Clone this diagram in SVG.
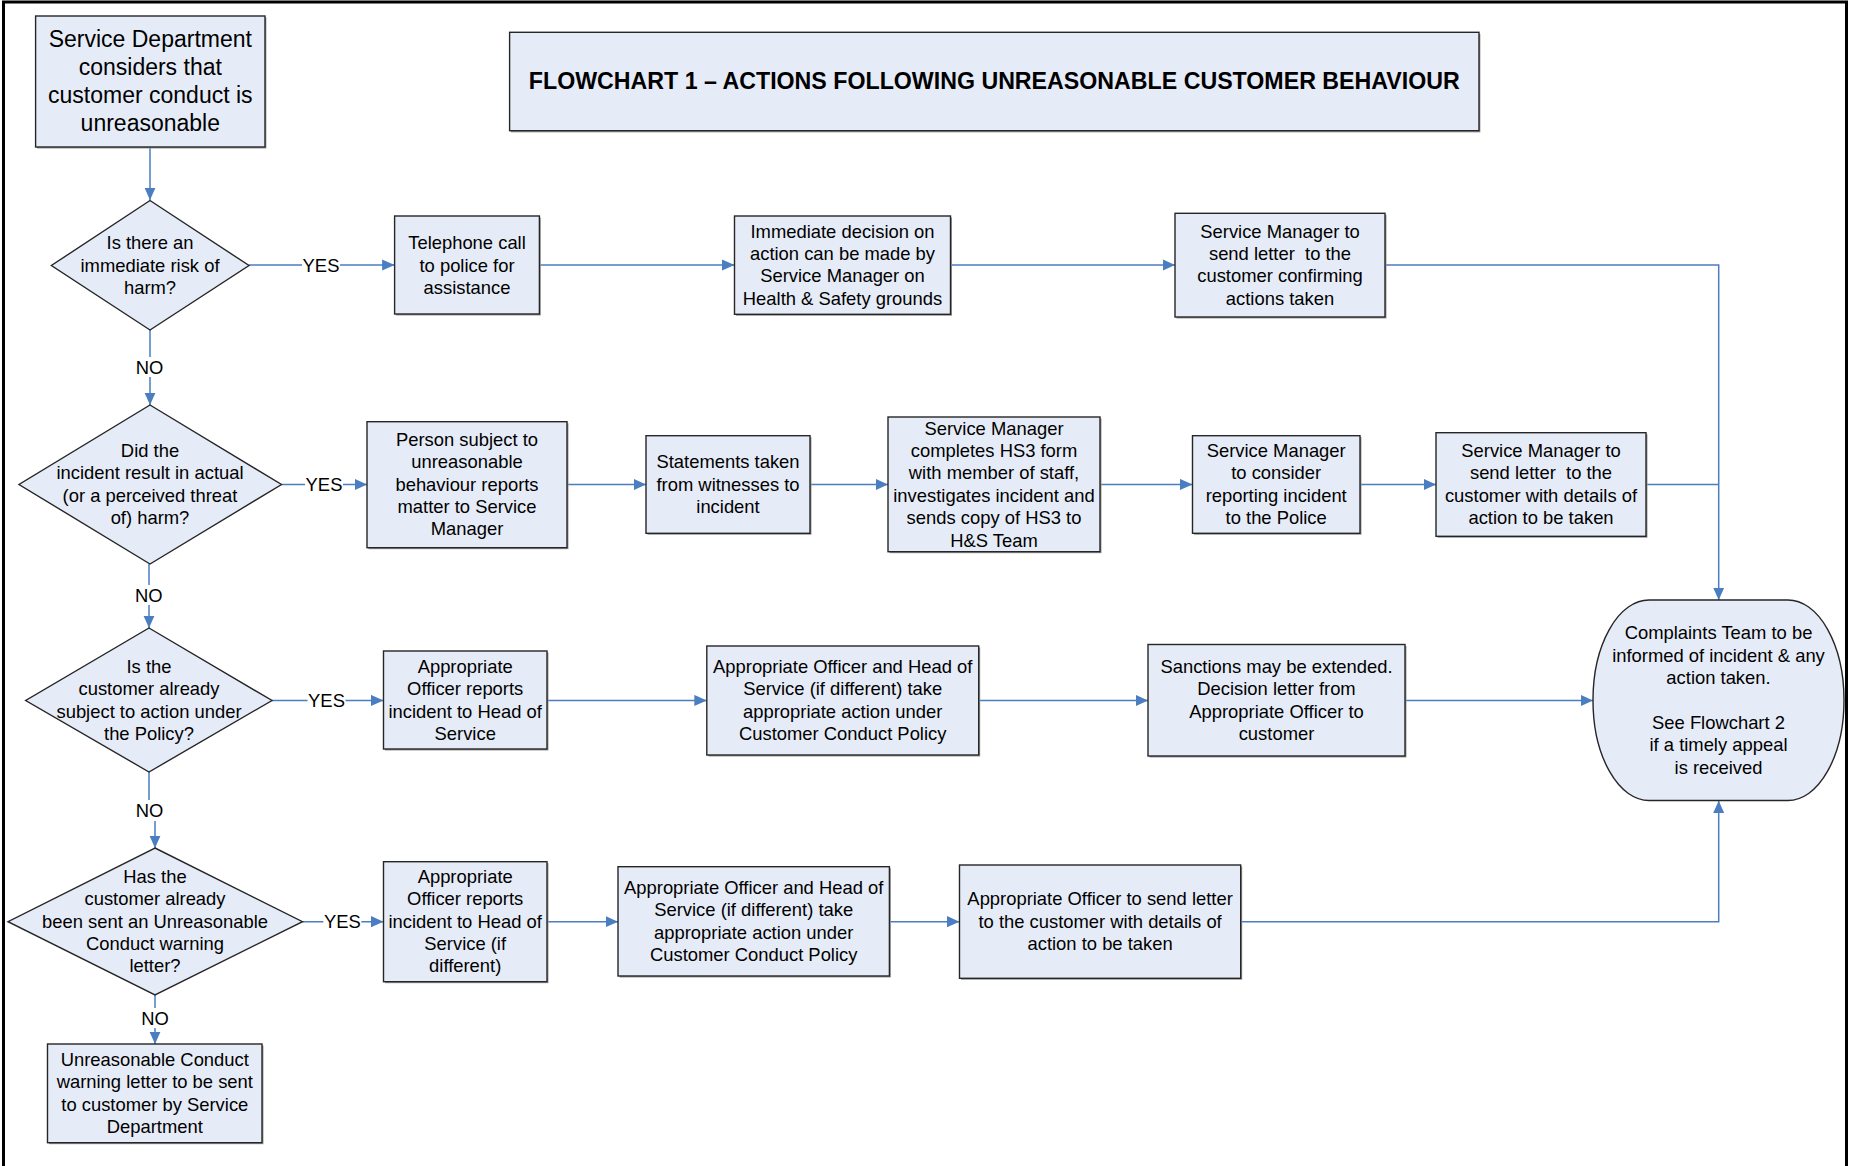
<svg xmlns="http://www.w3.org/2000/svg" width="1849" height="1166" viewBox="0 0 1849 1166">
<defs>
<marker id="arr" markerUnits="userSpaceOnUse" markerWidth="14" markerHeight="12" refX="12.5" refY="6" orient="auto">
<path d="M0,0.4 L12.5,6 L0,11.6 z" fill="#4A7EC0"/>
</marker>
<style>
.box{fill:#E6ECF7;stroke:#262626;stroke-width:1.4}
.sh{fill:#9a9a9a}
.t{font-family:"Liberation Sans",Arial,sans-serif;font-size:18.4px;fill:#000;text-anchor:middle}
.big{font-size:23px}
.title{font-family:"Liberation Sans",Arial,sans-serif;font-size:23.2px;font-weight:bold;text-anchor:middle;fill:#000}
.c{fill:none;stroke:#4A7EC0;stroke-width:1.5}
.ca{fill:none;stroke:#4A7EC0;stroke-width:1.5;marker-end:url(#arr)}
.lb{fill:#fff}
</style>
</defs>
<rect x="0" y="0" width="1849" height="1166" fill="#fff"/>
<rect x="3.5" y="2" width="1843" height="1180" fill="none" stroke="#000" stroke-width="3"/>

<g id="connectors">
<path class="ca" d="M150,147 V200"/>
<path class="ca" d="M249,265 H394.6"/>
<path class="ca" d="M539.4,265 H734.5"/>
<path class="ca" d="M950.5,265 H1175"/>
<path class="ca" d="M1385,265 H1718.7 V600"/>
<path class="ca" d="M150,330 V405"/>
<path class="ca" d="M281.5,484.5 H367"/>
<path class="ca" d="M567,484.5 H646"/>
<path class="ca" d="M810,484.5 H888"/>
<path class="ca" d="M1100,484.5 H1192.5"/>
<path class="ca" d="M1360,484.5 H1436"/>
<path class="c" d="M1646,484.5 H1718.7"/>
<path class="ca" d="M149,564 V628"/>
<path class="ca" d="M272,700.5 H383.5"/>
<path class="ca" d="M547,700.5 H706.8"/>
<path class="ca" d="M978.7,700.5 H1148"/>
<path class="ca" d="M1405,700.5 H1593"/>
<path class="ca" d="M149,772 V811 H155 V848"/>
<path class="ca" d="M302.5,921.7 H383.5"/>
<path class="ca" d="M547,921.7 H618"/>
<path class="ca" d="M889.4,921.7 H959.5"/>
<path class="ca" d="M1240.7,921.7 H1718.7 V800.7"/>
<path class="ca" d="M155,995 V1044"/>
<g id="labels">
<rect class="lb" x="302" y="255" width="38" height="20"/>
<text class="t" x="321" y="271.5">YES</text>
<rect class="lb" x="305" y="474.5" width="38" height="20"/>
<text class="t" x="324" y="491">YES</text>
<rect class="lb" x="307.5" y="690.5" width="38" height="20"/>
<text class="t" x="326.5" y="707">YES</text>
<rect class="lb" x="323.3" y="911.7" width="38" height="20"/>
<text class="t" x="342.3" y="928.2">YES</text>
<rect class="lb" x="134.5" y="357" width="30" height="20"/>
<text class="t" x="149.5" y="373.5">NO</text>
<rect class="lb" x="133.7" y="585" width="30" height="20"/>
<text class="t" x="148.7" y="601.5">NO</text>
<rect class="lb" x="134" y="800" width="30" height="21"/>
<text class="t" x="149.5" y="817.2">NO</text>
<rect class="lb" x="140" y="1008" width="30" height="20"/>
<text class="t" x="155" y="1024.5">NO</text>
</g>
</g>

<g id="title">
<rect class="sh" x="511" y="34" width="969.4" height="98.4"/>
<rect class="box" x="509.6" y="32.3" width="969.4" height="98.4"/>
<text class="title" x="994.3" y="89.3">FLOWCHART 1 – ACTIONS FOLLOWING UNREASONABLE CUSTOMER BEHAVIOUR</text>
</g>

<g id="start">
<rect class="sh" x="37" y="17.5" width="229.4" height="131"/>
<rect class="box" x="35.6" y="16" width="229.4" height="131"/>
<text class="t big" x="150.3" y="47.4"><tspan x="150.3">Service Department</tspan><tspan x="150.3" dy="27.7">considers that</tspan><tspan x="150.3" dy="27.7">customer conduct is</tspan><tspan x="150.3" dy="27.7">unreasonable</tspan></text>
</g>

<g id="d1">
<polygon class="box" points="150,200.5 249,265.5 150,330 51.4,265.5"/>
<text class="t" x="150" y="249.1"><tspan x="150">Is there an</tspan><tspan x="150" dy="22.4">immediate risk of</tspan><tspan x="150" dy="22.4">harm?</tspan></text>
</g>

<g id="telephone">
<rect class="sh" x="396" y="217.5" width="144.8" height="98"/>
<rect class="box" x="394.6" y="216" width="144.8" height="98"/>
<text class="t" x="467" y="249.1"><tspan x="467">Telephone call</tspan><tspan x="467" dy="22.4">to police for</tspan><tspan x="467" dy="22.4">assistance</tspan></text>
</g>

<g id="immediate">
<rect class="sh" x="736" y="217.5" width="216" height="98.3"/>
<rect class="box" x="734.5" y="216" width="216" height="98.3"/>
<text class="t" x="842.5" y="237.6"><tspan x="842.5">Immediate decision on</tspan><tspan x="842.5" dy="22.4">action can be made by</tspan><tspan x="842.5" dy="22.4">Service Manager on</tspan><tspan x="842.5" dy="22.4">Health &amp; Safety grounds</tspan></text>
</g>

<g id="letter1">
<rect class="sh" x="1176.5" y="214.8" width="210" height="103.7"/>
<rect class="box" x="1175" y="213.3" width="210" height="103.7"/>
<text class="t" x="1280" y="237.6" xml:space="preserve"><tspan x="1280">Service Manager to</tspan><tspan x="1280" dy="22.4">send letter  to the</tspan><tspan x="1280" dy="22.4">customer confirming</tspan><tspan x="1280" dy="22.4">actions taken</tspan></text>
</g>

<g id="d2">
<polygon class="box" points="150,405 281.5,484.5 150,564 19,484.5"/>
<text class="t" x="150" y="456.9"><tspan x="150">Did the</tspan><tspan x="150" dy="22.4">incident result in actual</tspan><tspan x="150" dy="22.4">(or a perceived threat</tspan><tspan x="150" dy="22.4">of) harm?</tspan></text>
</g>

<g id="person">
<rect class="sh" x="368.5" y="423.2" width="200" height="126"/>
<rect class="box" x="367" y="421.7" width="200" height="126"/>
<text class="t" x="467" y="445.7"><tspan x="467">Person subject to</tspan><tspan x="467" dy="22.4">unreasonable</tspan><tspan x="467" dy="22.4">behaviour reports</tspan><tspan x="467" dy="22.4">matter to Service</tspan><tspan x="467" dy="22.4">Manager</tspan></text>
</g>

<g id="statements">
<rect class="sh" x="647.5" y="437.2" width="164" height="97.6"/>
<rect class="box" x="646" y="435.7" width="164" height="97.6"/>
<text class="t" x="728" y="468.1"><tspan x="728">Statements taken</tspan><tspan x="728" dy="22.4">from witnesses to</tspan><tspan x="728" dy="22.4">incident</tspan></text>
</g>

<g id="hs3">
<rect class="sh" x="889.5" y="418.5" width="212" height="134.7"/>
<rect class="box" x="888" y="417" width="212" height="134.7"/>
<text class="t" x="994" y="434.5"><tspan x="994">Service Manager</tspan><tspan x="994" dy="22.4">completes HS3 form</tspan><tspan x="994" dy="22.4">with member of staff,</tspan><tspan x="994" dy="22.4">investigates incident and</tspan><tspan x="994" dy="22.4">sends copy of HS3 to</tspan><tspan x="994" dy="22.4">H&amp;S Team</tspan></text>
</g>

<g id="consider">
<rect class="sh" x="1194" y="437.2" width="167.5" height="97.6"/>
<rect class="box" x="1192.5" y="435.7" width="167.5" height="97.6"/>
<text class="t" x="1276.2" y="456.9"><tspan x="1276.2">Service Manager</tspan><tspan x="1276.2" dy="22.4">to consider</tspan><tspan x="1276.2" dy="22.4">reporting incident</tspan><tspan x="1276.2" dy="22.4">to the Police</tspan></text>
</g>

<g id="letter2">
<rect class="sh" x="1437.5" y="434.2" width="210" height="103.6"/>
<rect class="box" x="1436" y="432.7" width="210" height="103.6"/>
<text class="t" x="1541" y="456.9" xml:space="preserve"><tspan x="1541">Service Manager to</tspan><tspan x="1541" dy="22.4">send letter  to the</tspan><tspan x="1541" dy="22.4">customer with details of</tspan><tspan x="1541" dy="22.4">action to be taken</tspan></text>
</g>

<g id="d3">
<polygon class="box" points="149,628 272,700.5 149,772 25.7,700.5"/>
<text class="t" x="149" y="672.9"><tspan x="149">Is the</tspan><tspan x="149" dy="22.4">customer already</tspan><tspan x="149" dy="22.4">subject to action under</tspan><tspan x="149" dy="22.4">the Policy?</tspan></text>
</g>

<g id="officer3">
<rect class="sh" x="385" y="652.5" width="163.5" height="98"/>
<rect class="box" x="383.5" y="651" width="163.5" height="98"/>
<text class="t" x="465.2" y="672.9"><tspan x="465.2">Appropriate</tspan><tspan x="465.2" dy="22.4">Officer reports</tspan><tspan x="465.2" dy="22.4">incident to Head of</tspan><tspan x="465.2" dy="22.4">Service</tspan></text>
</g>

<g id="action3">
<rect class="sh" x="708.3" y="647.5" width="271.9" height="109"/>
<rect class="box" x="706.8" y="646" width="271.9" height="109"/>
<text class="t" x="842.7" y="672.9"><tspan x="842.7">Appropriate Officer and Head of</tspan><tspan x="842.7" dy="22.4">Service (if different) take</tspan><tspan x="842.7" dy="22.4">appropriate action under</tspan><tspan x="842.7" dy="22.4">Customer Conduct Policy</tspan></text>
</g>

<g id="sanctions">
<rect class="sh" x="1149.5" y="646" width="257" height="111.5"/>
<rect class="box" x="1148" y="644.5" width="257" height="111.5"/>
<text class="t" x="1276.5" y="672.9"><tspan x="1276.5">Sanctions may be extended.</tspan><tspan x="1276.5" dy="22.4">Decision letter from</tspan><tspan x="1276.5" dy="22.4">Appropriate Officer to</tspan><tspan x="1276.5" dy="22.4">customer</tspan></text>
</g>

<g id="complaints">
<rect class="box" x="1593" y="600" width="251" height="200.5" rx="56" ry="100"/>
<text class="t" x="1718.5" y="639.3"><tspan x="1718.5">Complaints Team to be</tspan><tspan x="1718.5" dy="22.4">informed of incident &amp; any</tspan><tspan x="1718.5" dy="22.4">action taken.</tspan><tspan x="1718.5" dy="44.8">See Flowchart 2</tspan><tspan x="1718.5" dy="22.4">if a timely appeal</tspan><tspan x="1718.5" dy="22.4">is received</tspan></text>
</g>

<g id="d4">
<polygon class="box" points="155,848 302.5,921.7 155,995 8,921.7"/>
<text class="t" x="155" y="882.7"><tspan x="155">Has the</tspan><tspan x="155" dy="22.4">customer already</tspan><tspan x="155" dy="22.4">been sent an Unreasonable</tspan><tspan x="155" dy="22.4">Conduct warning</tspan><tspan x="155" dy="22.4">letter?</tspan></text>
</g>

<g id="officer4">
<rect class="sh" x="385" y="863.2" width="163.5" height="120"/>
<rect class="box" x="383.5" y="861.7" width="163.5" height="120"/>
<text class="t" x="465.2" y="882.7"><tspan x="465.2">Appropriate</tspan><tspan x="465.2" dy="22.4">Officer reports</tspan><tspan x="465.2" dy="22.4">incident to Head of</tspan><tspan x="465.2" dy="22.4">Service (if</tspan><tspan x="465.2" dy="22.4">different)</tspan></text>
</g>

<g id="action4">
<rect class="sh" x="619.5" y="868.2" width="271.4" height="109.3"/>
<rect class="box" x="618" y="866.7" width="271.4" height="109.3"/>
<text class="t" x="753.7" y="893.9"><tspan x="753.7">Appropriate Officer and Head of</tspan><tspan x="753.7" dy="22.4">Service (if different) take</tspan><tspan x="753.7" dy="22.4">appropriate action under</tspan><tspan x="753.7" dy="22.4">Customer Conduct Policy</tspan></text>
</g>

<g id="letter4">
<rect class="sh" x="961" y="866.5" width="281.2" height="113.3"/>
<rect class="box" x="959.5" y="865" width="281.2" height="113.3"/>
<text class="t" x="1100.1" y="905.1"><tspan x="1100.1">Appropriate Officer to send letter</tspan><tspan x="1100.1" dy="22.4">to the customer with details of</tspan><tspan x="1100.1" dy="22.4">action to be taken</tspan></text>
</g>

<g id="warning">
<rect class="sh" x="49" y="1045.5" width="214.5" height="98.7"/>
<rect class="box" x="47.5" y="1044" width="214.5" height="98.7"/>
<text class="t" x="154.8" y="1065.9"><tspan x="154.8">Unreasonable Conduct</tspan><tspan x="154.8" dy="22.4">warning letter to be sent</tspan><tspan x="154.8" dy="22.4">to customer by Service</tspan><tspan x="154.8" dy="22.4">Department</tspan></text>
</g>
</svg>
